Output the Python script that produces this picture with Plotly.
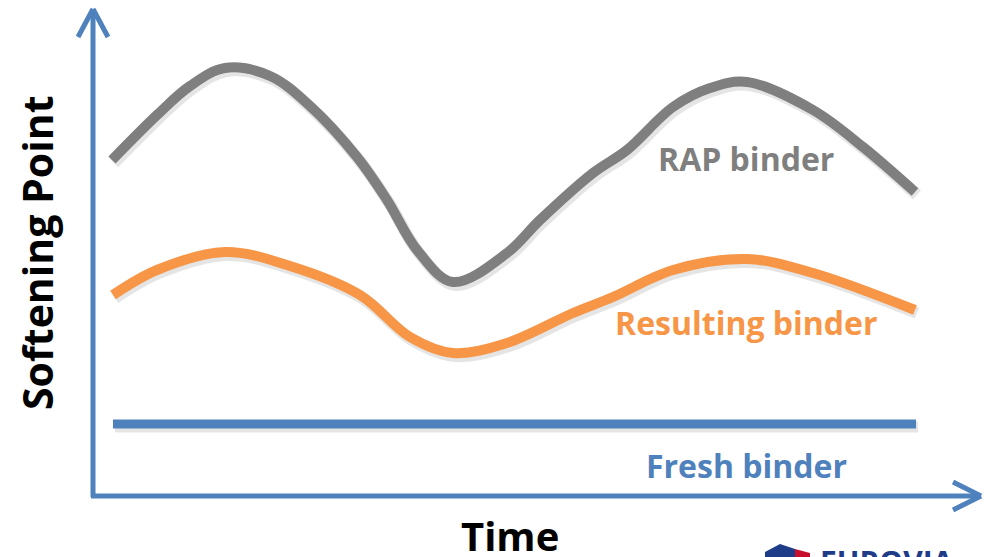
import plotly.graph_objects as go

H = 557

rap_time = [112, 157, 190, 225, 270, 310, 357, 387, 417, 453, 507, 540, 593, 627, 673, 710, 747, 813, 863, 915]
rap_sp = [H - v for v in [160, 115, 86, 68, 76, 106, 157, 200, 250, 282, 253, 220, 173, 150, 107, 88, 82, 110, 147, 192]]

res_time = [113, 157, 225, 290, 360, 410, 453, 507, 573, 613, 673, 747, 813, 915]
res_sp = [H - v for v in [295, 270, 252, 266, 295, 337, 353, 343, 313, 297, 270, 259, 273, 310]]

fresh_time = [113, 916]
fresh_sp = [H - 424, H - 424]

GRAY = '#7F7F7F'
ORANGE = '#F79646'
BLUE = '#4F81BD'
FONT = 'Open Sans'

fig = go.Figure()

def add_curve(x, y, color, width, shape='spline'):
    # soft drop shadow under each line
    fig.add_trace(go.Scatter(x=[v + 2 for v in x], y=[v - 3 for v in y], mode='lines',
                             line=dict(color='rgba(0,0,0,0.10)', width=width + 2, shape=shape),
                             hoverinfo='skip', showlegend=False))
    fig.add_trace(go.Scatter(x=x, y=y, mode='lines',
                             line=dict(color=color, width=width, shape=shape, smoothing=1.0),
                             showlegend=False))

add_curve(rap_time, rap_sp, GRAY, 10)
add_curve(res_time, res_sp, ORANGE, 10)
add_curve(fresh_time, fresh_sp, BLUE, 9, shape='linear')

# axis arrows
ax = dict(type='line', xref='x', yref='y', line=dict(color=BLUE, width=5))
shapes = [
    dict(ax, x0=93, y0=H - 497, x1=93, y1=H - 9),
    dict(ax, x0=78, y0=H - 37, x1=93, y1=H - 9),
    dict(ax, x0=108, y0=H - 37, x1=93, y1=H - 9),
    dict(ax, x0=91, y0=H - 496, x1=980, y1=H - 496),
    dict(ax, x0=953, y0=H - 482, x1=981, y1=H - 496),
    dict(ax, x0=953, y0=H - 510, x1=981, y1=H - 496),
]

labels = [
    dict(x=746, y=H - 158, text='<b>RAP binder</b>', font=dict(color=GRAY, size=32, family=FONT)),
    dict(x=746, y=H - 322, text='<b>Resulting binder</b>', font=dict(color=ORANGE, size=32, family=FONT)),
    dict(x=746, y=H - 465, text='<b>Fresh binder</b>', font=dict(color=BLUE, size=32, family=FONT)),
    dict(x=37, y=H - 253, text='<b>Softening Point</b>', textangle=-90,
         font=dict(color='black', size=41, family=FONT)),
    dict(x=510, y=H - 535, text='<b>Time</b>', font=dict(color='black', size=40, family=FONT)),
    dict(x=818, y=H - 539, text='<b>EUROVIA</b>', xanchor='left', yanchor='top',
         font=dict(color='#1F3C88', size=30, family=FONT)),
]
for a in labels:
    a.setdefault('xanchor', 'center')
    a.setdefault('yanchor', 'middle')
    a.update(xref='x', yref='y', showarrow=False)

# small logo mark, bottom right
shapes += [
    dict(type='path', xref='x', yref='y', path=f'M 765 {H-552} L 780 {H-544} L 795 {H-549} L 795 {H-560} L 765 {H-560} Z',
         fillcolor='#1F3C88', line=dict(width=0)),
    dict(type='path', xref='x', yref='y', path=f'M 795 {H-549} L 810 {H-553} L 810 {H-560} L 795 {H-560} Z',
         fillcolor='#C8102E', line=dict(width=0)),
]

fig.update_layout(
    width=984, height=557,
    margin=dict(l=0, r=0, t=0, b=0),
    paper_bgcolor='white', plot_bgcolor='white',
    xaxis=dict(range=[0, 984], visible=False, fixedrange=True),
    yaxis=dict(range=[0, H], visible=False, fixedrange=True),
    shapes=shapes, annotations=labels,
)

fig.write_html("out.html", config=dict(displayModeBar=False),
               post_script="document.body.style.margin='0';")
